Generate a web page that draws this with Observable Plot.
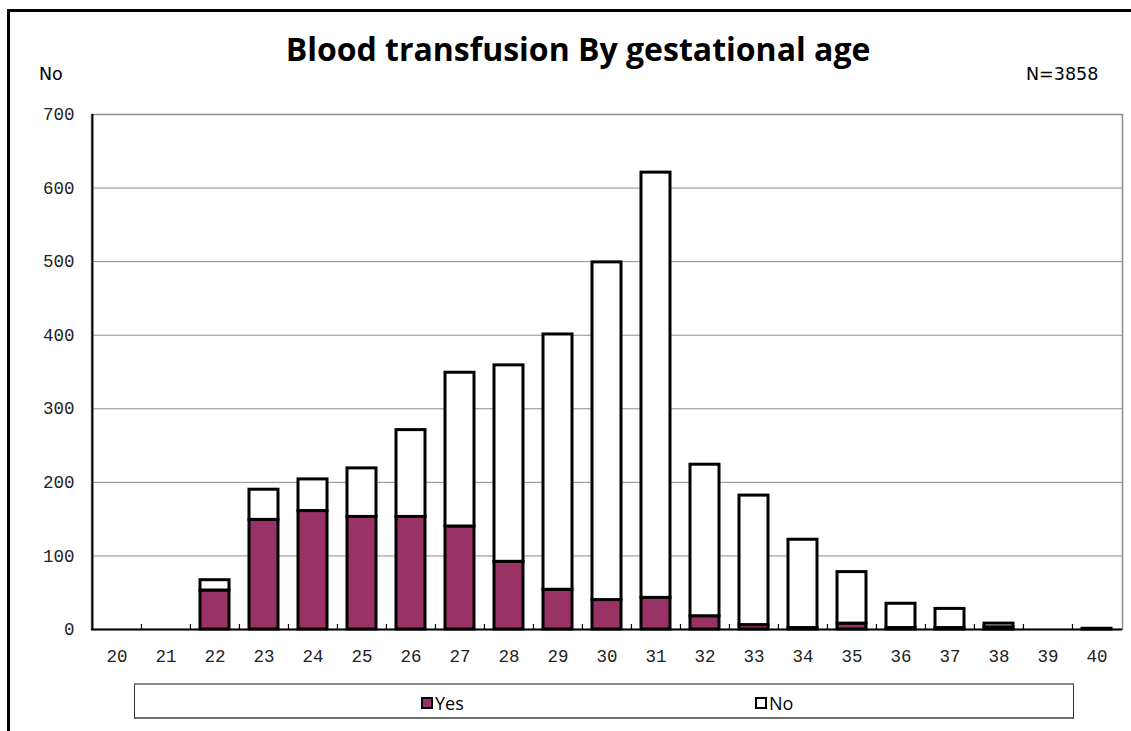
<!DOCTYPE html>
<html>
<head>
<meta charset="utf-8">
<script src="https://cdn.jsdelivr.net/npm/d3@7"></script>
<script src="https://cdn.jsdelivr.net/npm/@observablehq/plot@0.6"></script>
<style>
  body { margin: 0; background: #fff; }
  #chart { position: relative; width: 1131px; height: 731px; overflow: hidden; background: #fff; font-family: "DejaVu Sans", sans-serif; }
  #outline { position: absolute; left: 7px; top: 9px; width: 1300px; height: 900px; border-left: 3px solid #000; border-top: 3px solid #000; }
  #title { position: absolute; top: 27px; left: 578px; transform: translateX(-50%); white-space: nowrap; font-family: "Open Sans", sans-serif; font-weight: 700; font-size: 32px; color: #000; }
  .corner { position: absolute; font-size: 17.5px; color: #000; white-space: nowrap; }
  #plot { position: absolute; left: 0; top: 0; }
  #legend { position: absolute; left: 134px; top: 683px; width: 938px; height: 32px; border-left: 1px solid #333; border-right: 1px solid #333; border-top: 2px solid #8a8a8a; border-bottom: 2px solid #6e6e6e; box-sizing: content-box; }
  .item { position: absolute; top: 6px; display: flex; align-items: center; font-family: "Open Sans", sans-serif; font-size: 18px; }
  .swatch { width: 8px; height: 8px; border: 2px solid #000; margin-right: 2px; }
</style>
</head>
<body>
<div id="chart">
  <div id="outline"></div>
  <div id="title">Blood transfusion By gestational age</div>
  <div class="corner" style="left:39px; top:64px;">No</div>
  <div class="corner" style="left:1026px; top:64px;">N=3858</div>
  <div id="plot"></div>
  <div id="legend"></div>
</div>
<script>
// Gestational age in weeks
const ages = ["20","21","22","23","24","25","26","27","28","29","30","31","32","33","34","35","36","37","38","39","40"];
// Infants who received a blood transfusion
const yesCounts = [0, 0, 53, 149, 161, 153, 153, 140, 92, 54, 40, 43, 18, 6, 2, 8, 2, 2, 3, 0, 1];
// Infants who did not
const noCounts  = [0, 0, 14, 41, 43, 66, 118, 209, 267, 347, 459, 578, 206, 176, 120, 70, 33, 26, 5, 0, 0];
const series = ["Yes", "No"];
const seriesColors = ["#993366", "#ffffff"];
const yTicks = [0, 100, 200, 300, 400, 500, 600, 700];

const rows = [];
ages.forEach((a, i) => {
  rows.push({age: a, series: "Yes", count: yesCounts[i]});
  rows.push({age: a, series: "No", count: noCounts[i]});
});

const W = 1131, H = 680;
const margin = {top: 114, right: 9, bottom: 51, left: 91};
const step = (W - margin.left - margin.right) / ages.length;
const tickFont = {fontFamily: "Liberation Mono, monospace", fontSize: 17.5, fill: "#222", letterSpacing: "3px"};

const chart = Plot.plot({
  width: W,
  height: H,
  marginTop: margin.top,
  marginRight: margin.right,
  marginBottom: margin.bottom,
  marginLeft: margin.left,
  style: {background: "transparent", overflow: "visible"},
  x: {domain: ages, paddingInner: 0.4, paddingOuter: 0.2, label: null},
  y: {domain: [0, 700], label: null},
  color: {domain: series, range: seriesColors},
  marks: [
    Plot.gridY(yTicks, {stroke: "#8c8c8c", strokeOpacity: 1, strokeWidth: 1}),
    Plot.frame({stroke: "#8c8c8c", strokeWidth: 1.5}),
    Plot.barY(rows, {x: "age", y: "count", fill: "series", order: series, stroke: "#000", strokeWidth: 3}),
    // category separators on the baseline
    Plot.axisX({ticks: ages.slice(1), tickSize: -5, tickFormat: () => "", dx: -step / 2, stroke: "#000", strokeWidth: 1.2, label: null}),
    // left axis line
    Plot.ruleX([ages[0]], {dx: -step / 2, stroke: "#000", strokeWidth: 2}),
    Plot.ruleY([0], {stroke: "#000", strokeWidth: 2}),
    Plot.axisX({tickSize: 0, tickPadding: 20, label: null, ...tickFont}),
    Plot.axisY(yTicks, {tickSize: 0, tickPadding: 17, label: null, ...tickFont})
  ]
});
document.getElementById("plot").appendChild(chart);

// legend
const legend = document.getElementById("legend");
const itemLeft = [286, 620];
series.forEach((s, i) => {
  const item = document.createElement("div");
  item.className = "item";
  item.style.left = itemLeft[i] + "px";
  const sw = document.createElement("span");
  sw.className = "swatch";
  sw.style.background = seriesColors[i];
  const label = document.createElement("span");
  label.textContent = s;
  item.appendChild(sw);
  item.appendChild(label);
  legend.appendChild(item);
});
</script>
</body>
</html>
